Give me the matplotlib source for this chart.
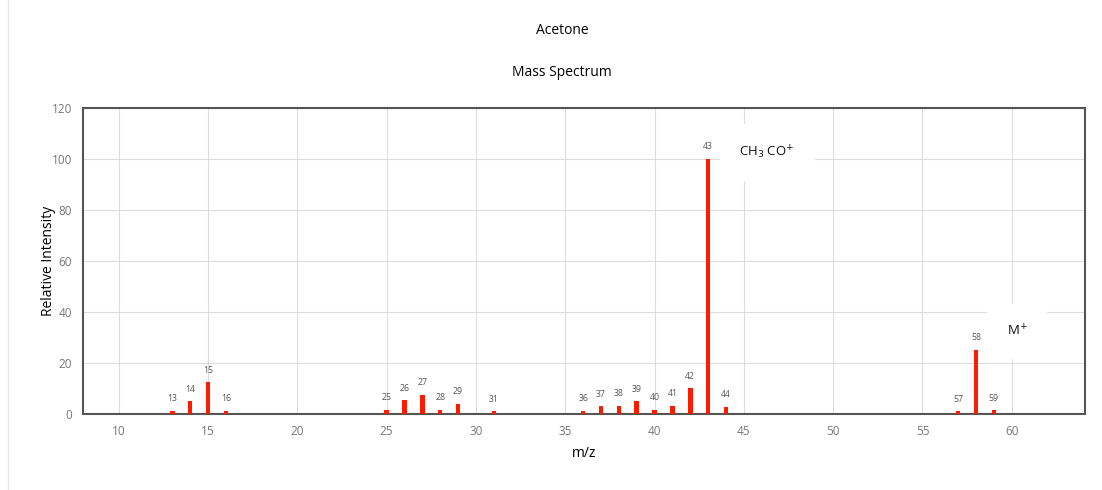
import numpy as np
import matplotlib.pyplot as plt
from matplotlib.lines import Line2D

plt.rcParams['font.family'] = ['Open Sans', 'DejaVu Sans']

# m/z peaks and relative intensities for acetone
mz = [13, 14, 15, 16, 25, 26, 27, 28, 29, 31, 36, 37, 38, 39, 40, 41, 42, 43, 44, 57, 58, 59]
intensity = [1.3, 5.0, 12.4, 1.2, 1.7, 5.4, 7.6, 1.6, 4.0, 1.0, 1.2, 3.0, 3.3, 5.0,
             1.7, 3.3, 10.1, 100.0, 2.9, 1.0, 25.2, 1.5]

fragment_labels = ['CH$_3$ CO$^{+}$', 'M$^{+}$']
fragment_pos = [(46.3, 102.7), (60.3, 32.5)]

fig = plt.figure(figsize=(11.02, 4.90), dpi=100)
ax = fig.add_axes([0.0753, 0.155, 0.9093, 0.6246])

ax.bar(mz, intensity, width=0.25, color='#ff1a00', zorder=3)
for x, y in zip(mz, intensity):
    ax.text(x, y + 3, str(x), ha='center', va='bottom', fontsize=6.3, color='#555555', zorder=4)

for (x, y), lab in zip(fragment_pos, fragment_labels):
    ax.text(x, y, lab, ha='center', va='center', fontsize=9.5, color='#111111', zorder=5,
            bbox=dict(boxstyle='square,pad=1.5', fc='white', ec='none'))

ax.set_xlim(8, 64.1)
ax.set_ylim(0, 120)
ax.set_xticks(np.arange(10, 61, 5))
ax.set_yticks(np.arange(0, 121, 20))
ax.grid(True, color='#dddddd', linewidth=0.8, zorder=0)
ax.tick_params(length=0, labelsize=8.5, labelcolor='#777777', pad=8)
for s in ax.spines.values():
    s.set_color('#555555')
    s.set_linewidth(1.5)

ax.set_xlabel('m/z', fontsize=10)
ax.set_ylabel('Relative Intensity', fontsize=10)
ax.xaxis.set_label_coords(0.5, -0.104)
ax.yaxis.set_label_coords(-0.027, 0.5)

fig.text(0.51, 1 - 31 / 490, 'Acetone', ha='center', va='center', fontsize=10)
fig.text(0.51, 1 - 72 / 490, 'Mass Spectrum', ha='center', va='center', fontsize=10)

# light page border on the left
fig.add_artist(Line2D([8 / 1102, 8 / 1102], [0, 1], transform=fig.transFigure,
                      color='#e6e6e6', linewidth=1))

fig.savefig('out.png', dpi=100)
